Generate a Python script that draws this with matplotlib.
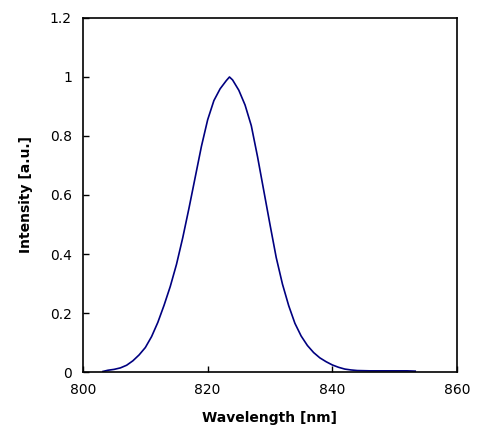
import matplotlib
matplotlib.use("Agg")
import matplotlib.pyplot as plt

# spectrum
wavelength = [803.2, 804, 805, 806, 807, 808, 809, 810, 811, 812, 813, 814, 815,
              816, 817, 818, 819, 820, 821, 822, 823, 823.5, 824, 825, 826, 827,
              828, 829, 830, 831, 832, 833, 834, 835, 836, 837, 838, 839, 840,
              841, 842, 843, 844, 846, 848, 850, 852, 853.3]
intensity = [0.002, 0.006, 0.009, 0.014, 0.023, 0.038, 0.058, 0.083, 0.120, 0.168,
             0.226, 0.290, 0.365, 0.455, 0.555, 0.660, 0.765, 0.855, 0.920, 0.960,
             0.988, 1.000, 0.990, 0.955, 0.905, 0.835, 0.730, 0.615, 0.500, 0.388,
             0.298, 0.225, 0.165, 0.122, 0.090, 0.066, 0.048, 0.035, 0.024, 0.016,
             0.010, 0.007, 0.005, 0.004, 0.004, 0.004, 0.004, 0.003]

xticks = [800, 820, 840, 860]
yticks = [0, 0.2, 0.4, 0.6, 0.8, 1.0, 1.2]
ylabels = ['0', '0.2', '0.4', '0.6', '0.8', '1', '1.2']

fig = plt.figure(figsize=(4.79, 4.45), dpi=100)
ax = fig.add_axes([0.1733, 0.164, 0.7807, 0.7956])

ax.plot(wavelength, intensity, color='#000080', lw=1.2)

ax.set_xlim(800, 860)
ax.set_ylim(0, 1.2)
ax.set_xticks(xticks)
ax.set_yticks(yticks)
ax.set_yticklabels(ylabels)
ax.tick_params(direction='in', length=4, width=1, labelsize=10, pad=8,
               top=False, right=False)
for s in ax.spines.values():
    s.set_linewidth(1.2)

ax.set_xlabel('Wavelength [nm]', fontsize=10, fontweight='bold', labelpad=10)
ax.set_ylabel('Intensity [a.u.]', fontsize=10, fontweight='bold', labelpad=12)

plt.savefig('out.png', dpi=100)
